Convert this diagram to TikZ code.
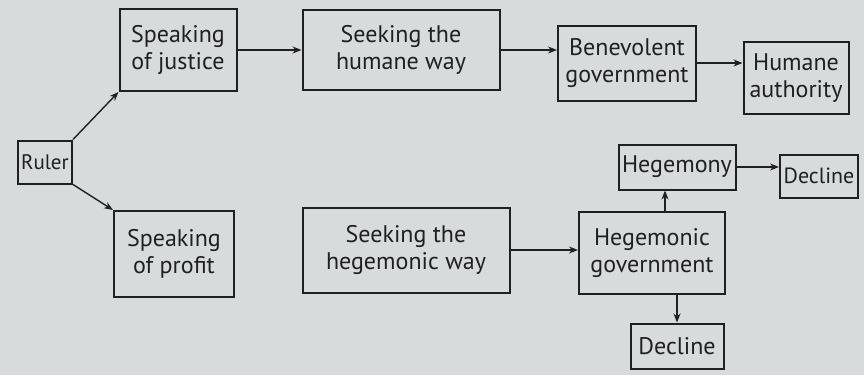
\documentclass[tikz,border=0pt]{standalone}
\usepackage{fontspec}
\setmainfont{PT Sans}
\usetikzlibrary{arrows.meta,calc}
\definecolor{PageClr}{RGB}{216,219,220}
\definecolor{InkClr}{RGB}{32,32,34}

\begin{document}
\begin{tikzpicture}[x=1pt,y=-1pt,>={Stealth[length=9pt,width=7pt]},
  box/.style={draw=InkClr,line width=2pt,text=InkClr,align=center,inner sep=0pt,
    font=\fontsize{24}{27}\selectfont},
  link/.style={->,draw=InkClr,line width=1.4pt}]
\fill[PageClr] (0,0) rectangle (864,375);
\useasboundingbox (0,0) rectangle (864,375);

% left column
\node[box,minimum width=54pt,minimum height=43pt,font=\fontsize{21}{24}\selectfont] (ruler) at (45,162) {Ruler};
\node[box,minimum width=117pt,minimum height=82pt] (justice) at (178,50) {Speaking\\of justice};
\node[box,minimum width=120pt,minimum height=86pt] (profit) at (174,254) {Speaking\\of profit};

% upper row
\node[box,minimum width=197pt,minimum height=80pt] (humaneway) at (401,50) {Seeking the\\humane way};
\node[box,minimum width=138pt,minimum height=75pt] (benevolent) at (627,63) {Benevolent\\government};
\node[box,minimum width=105pt,minimum height=72pt] (authority) at (796,78) {Humane\\authority};

% lower row
\node[box,minimum width=207pt,minimum height=85pt] (hegway) at (406,250) {Seeking the\\hegemonic way};
\node[box,minimum width=146pt,minimum height=82pt] (heggov) at (652,253) {Hegemonic\\government};
\node[box,minimum width=117pt,minimum height=45pt] (hegemony) at (677,167) {Hegemony};
\node[box,minimum width=78pt,minimum height=43pt,font=\fontsize{22}{25}\selectfont] (declineR) at (819,176) {Decline};
\node[box,minimum width=93pt,minimum height=45pt] (declineB) at (677,346) {Decline};

\draw[link] (ruler.north east) -- (justice.south west);
\draw[link] (ruler.south east) -- (profit.north west);

\draw[link] (justice.east) -- (justice.east -| humaneway.west);
\draw[link] (humaneway.east) -- (humaneway.east -| benevolent.west);
\draw[link] (benevolent.east) -- (benevolent.east -| authority.west);

\draw[link] (hegway.east) -- (hegway.east -| heggov.west);
\draw[link] ([xshift=13pt]heggov.north) -- ([xshift=13pt]heggov.north |- hegemony.south);
\draw[link] (heggov.south -| declineB) -- (declineB.north);
\draw[link] (hegemony.east) -- (hegemony.east -| declineR.west);

\end{tikzpicture}
\end{document}
